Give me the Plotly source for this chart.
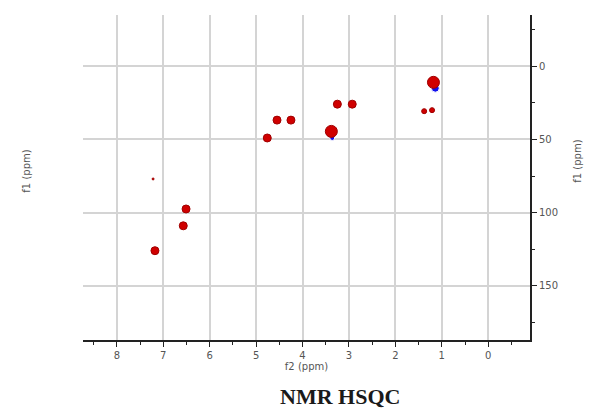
import plotly.graph_objects as go

# HSQC cross peaks (f2 = 1H ppm, f1 = 13C ppm)
red_f2 = [1.18, 3.25, 2.93, 1.38, 1.21, 4.55, 4.25, 4.76, 3.38, 7.22, 6.51, 6.57, 7.18]
red_f1 = [11.0, 25.9, 25.9, 30.7, 30.0, 36.8, 36.8, 49.0, 44.5, 77.0, 97.5, 109.0, 126.0]
red_int = [3, 2, 2, 1, 1, 2, 2, 2, 3, 0, 2, 2, 2]

blue_f2 = [1.14, 3.36]
blue_f1 = [15.0, 49.0]
blue_int = [2, 1]

x_ticks = [8, 7, 6, 5, 4, 3, 2, 1, 0]
y_ticks = [0, 50, 100, 150]

size_map = {0: 2, 1: 5, 2: 8, 3: 12}

fig = go.Figure()
fig.add_trace(go.Scatter(
    x=blue_f2, y=blue_f1, mode='markers',
    marker=dict(color='#1010ee', size=[size_map[i] for i in blue_int], symbol='circle', opacity=1),
    showlegend=False))
fig.add_trace(go.Scatter(
    x=red_f2, y=red_f1, mode='markers',
    marker=dict(color='#d00000', size=[size_map[i] for i in red_int], symbol='circle', opacity=1,
                line=dict(color='#a00000', width=1)),
    showlegend=False))

axis_font = dict(family='DejaVu Sans', size=10, color='#555555')

# page body has an 8px margin, so shift the plot area up/left by 8px
fig.update_layout(
    width=596, height=408,
    margin=dict(l=75, r=74, t=7, b=76),
    plot_bgcolor='white', paper_bgcolor='white',
    xaxis=dict(
        range=[8.73, -0.9], tickvals=x_ticks, ticktext=[str(v) for v in x_ticks],
        showgrid=True, gridcolor='#d4d4d4', gridwidth=2, zeroline=False,
        showline=True, linecolor='#222222', linewidth=2,
        ticks='outside', ticklen=5, tickcolor='#222222', tickwidth=1,
        minor=dict(dtick=0.5, ticks='outside', ticklen=3, tickcolor='#222222', showgrid=False),
        tickfont=axis_font,
        title=dict(text='f2 (ppm)', font=axis_font, standoff=2),
    ),
    yaxis=dict(
        range=[187, -35], side='right', tickvals=y_ticks, ticktext=[str(v) for v in y_ticks],
        showgrid=True, gridcolor='#d4d4d4', gridwidth=2, zeroline=False,
        showline=True, linecolor='#222222', linewidth=2,
        ticks='outside', ticklen=5, tickcolor='#222222', tickwidth=1,
        minor=dict(dtick=25, ticks='outside', ticklen=3, tickcolor='#222222', showgrid=False),
        tickfont=axis_font,
    ),
    annotations=[
        dict(text='f1 (ppm)', xref='paper', yref='paper', x=-0.145, y=0.52,
             textangle=-90, showarrow=False, font=axis_font),
        dict(text='f1 (ppm)', xref='paper', yref='paper', x=1.123, y=0.55,
             textangle=-90, showarrow=False, font=axis_font),
        dict(text='<b>NMR HSQC</b>', xref='paper', yref='paper', x=0.575, y=-0.175,
             yanchor='middle', showarrow=False,
             font=dict(family='Liberation Serif', size=22, color='#1a1a1a')),
    ],
)

fig.write_html("out.html")
